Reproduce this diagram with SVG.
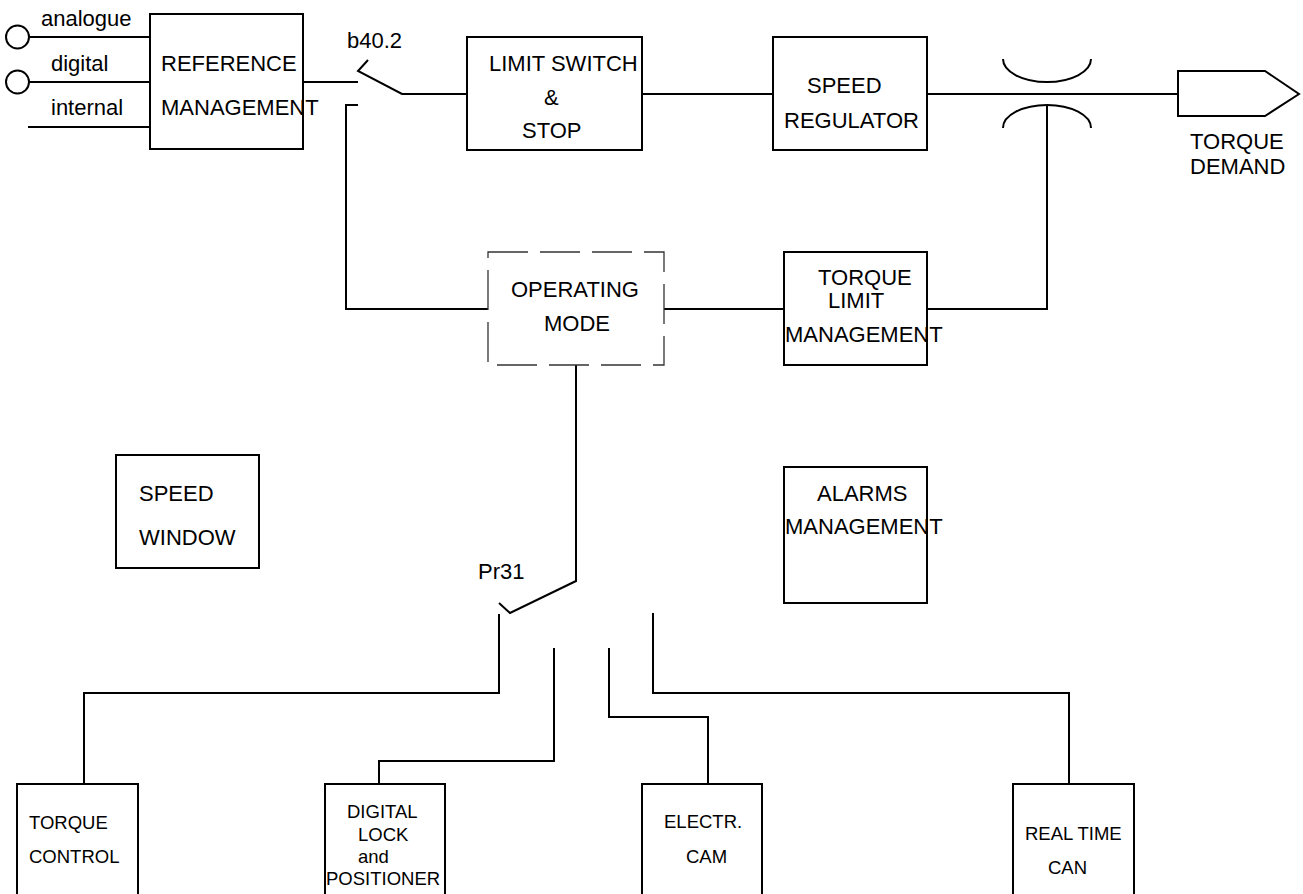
<svg xmlns="http://www.w3.org/2000/svg" width="1303" height="894" viewBox="0 0 1303 894">
<style>
.b{fill:#fff;stroke:#000;stroke-width:2}
.l{fill:none;stroke:#000;stroke-width:2}
.d{fill:none;stroke:#333;stroke-width:1.3;stroke-dasharray:40 12}
text{font-family:"Liberation Sans",Arial,sans-serif;font-size:22px;fill:#000}
.s{font-size:18.5px}
</style>
<rect width="1303" height="894" fill="#fff"/>
<g id="connectors">
<circle class="l" cx="17.5" cy="37" r="11.5"/>
<circle class="l" cx="17.5" cy="82" r="11.5"/>
<path class="l" d="M29 37H150M29 82H150M28 127H150"/>
<path class="l" d="M303 82H358M368 60L358 71L402 94H467M642 94H773M927 94H1178"/>
<path class="l" d="M1003 59A44 23 0 0 0 1091 59"/>
<path class="l" d="M1003 128A44 23 0 0 1 1091 128"/>
<path class="l" d="M1047 105V309H927"/>
<path class="l" d="M358 105H346V309H488M664 309H784"/>
<path class="l" d="M576 365V581L510 613L499 603"/>
<path class="l" d="M499 614V693H84V784"/>
<path class="l" d="M554 648V761H379V784"/>
<path class="l" d="M609 648V717H708V784"/>
<path class="l" d="M653 613V693H1069V784"/>
</g>
<g id="reference">
<rect class="b" x="150" y="14" width="153" height="135"/>
<text x="161" y="71">REFERENCE</text>
<text x="161" y="115">MANAGEMENT</text>
</g>
<g id="inputs">
<text x="41" y="26">analogue</text>
<text x="51" y="71">digital</text>
<text x="51" y="115">internal</text>
</g>
<g id="switch-b40">
<text x="347" y="48">b40.2</text>
</g>
<g id="limit-switch">
<rect class="b" x="467" y="37" width="175" height="113"/>
<text x="489" y="71">LIMIT SWITCH</text>
<text x="544" y="105">&amp;</text>
<text x="522" y="138">STOP</text>
</g>
<g id="speed-regulator">
<rect class="b" x="773" y="37" width="154" height="113"/>
<text x="807" y="93">SPEED</text>
<text x="784" y="128">REGULATOR</text>
</g>
<g id="torque-demand">
<path class="b" d="M1178 71H1265L1299 94L1265 116H1178Z"/>
<text x="1190" y="149">TORQUE</text>
<text x="1190" y="174">DEMAND</text>
</g>
<g id="operating-mode">
<rect class="d" x="488" y="252" width="176" height="113"/>
<text x="511" y="297">OPERATING</text>
<text x="544" y="331">MODE</text>
</g>
<g id="torque-limit">
<rect class="b" x="784" y="252" width="143" height="113"/>
<text x="818" y="285">TORQUE</text>
<text x="828" y="308">LIMIT</text>
<text x="785" y="342">MANAGEMENT</text>
</g>
<g id="speed-window">
<rect class="b" x="116" y="455" width="143" height="113"/>
<text x="139" y="501">SPEED</text>
<text x="139" y="545">WINDOW</text>
</g>
<g id="alarms">
<rect class="b" x="784" y="467" width="143" height="136"/>
<text x="817" y="501">ALARMS</text>
<text x="785" y="534">MANAGEMENT</text>
</g>
<g id="switch-pr31">
<text x="478" y="579">Pr31</text>
</g>
<g id="torque-control">
<rect class="b" x="17" y="784" width="121" height="130"/>
<text class="s" x="29" y="829">TORQUE</text>
<text class="s" x="29" y="863">CONTROL</text>
</g>
<g id="digital-lock">
<rect class="b" x="325" y="784" width="120" height="130"/>
<text class="s" x="347" y="818">DIGITAL</text>
<text class="s" x="358" y="841">LOCK</text>
<text class="s" x="358" y="863">and</text>
<text class="s" x="326" y="885">POSITIONER</text>
</g>
<g id="electr-cam">
<rect class="b" x="642" y="784" width="120" height="130"/>
<text class="s" x="664" y="828">ELECTR.</text>
<text class="s" x="686" y="863">CAM</text>
</g>
<g id="real-time-can">
<rect class="b" x="1013" y="784" width="121" height="130"/>
<text class="s" x="1025" y="840">REAL TIME</text>
<text class="s" x="1048" y="874">CAN</text>
</g>
</svg>
